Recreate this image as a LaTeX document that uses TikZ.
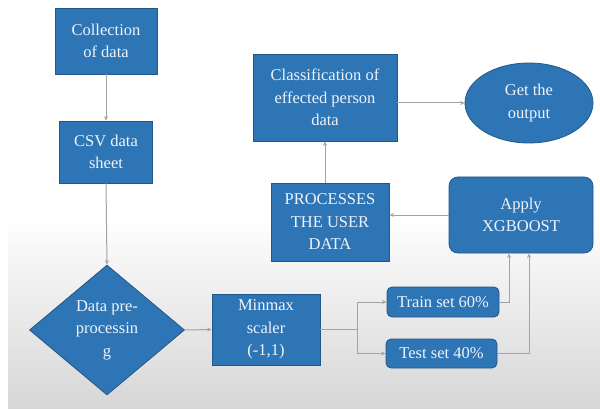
\documentclass[tikz,border=0pt]{standalone}
\usepackage{fontspec}
\setmainfont{Liberation Serif}
\usetikzlibrary{shapes.geometric,arrows.meta,calc}
\definecolor{boxblue}{HTML}{2E75B6}
\definecolor{boxedge}{HTML}{22578A}
\definecolor{txtc}{HTML}{EEF3FA}
\definecolor{linec}{HTML}{A3A3A3}
\definecolor{bgbot}{HTML}{D6D6D6}
\tikzset{
  blk/.style={draw=boxedge, line width=0.8pt, fill=boxblue, text=txtc, align=center,
    font=\fontsize{16.5}{22.5}\selectfont, inner sep=0pt},
  conn/.style={draw=linec, line width=1pt, -{Stealth[length=4.5pt,width=4pt]}},
  plain/.style={draw=linec, line width=1pt}
}
\begin{document}
\begin{tikzpicture}[x=1pt,y=-1pt]
\useasboundingbox (0,0) rectangle (600,409);
\fill[white] (0,0) rectangle (600,409);
\shade[top color=white, bottom color=bgbot] (8,215) rectangle (600,409);

\node[blk, minimum width=102pt, minimum height=66pt] (coll) at (106,41) {Collection\\of data};
\node[blk, minimum width=93pt, minimum height=62pt] (csv) at (106,152) {CSV data\\sheet};
\node[blk, diamond, aspect=1.19, minimum width=155pt, minimum height=130pt] (dp) at (107,330) {Data pre-\\processin\\g};
\node[blk, minimum width=108pt, minimum height=71pt] (mm) at (266,329.5) {Minmax\\scaler\\(-1,1)};
\node[blk, rounded corners=5pt, minimum width=112pt, minimum height=30pt] (train) at (443,302) {Train set 60\%};
\node[blk, rounded corners=5pt, minimum width=111pt, minimum height=29pt] (test) at (441.5,353.5) {Test set 40\%};
\node[blk, rounded corners=9pt, minimum width=144pt, minimum height=76pt] (xgb) at (521,215) {Apply\\XGBOOST};
\node[blk, minimum width=118pt, minimum height=78pt] (proc) at (330,222) {PROCESSES\\THE USER\\DATA};
\node[blk, minimum width=144pt, minimum height=87pt] (cls) at (325,97.5) {Classification of\\effected person\\data};
\node[blk, ellipse, minimum width=128pt, minimum height=80pt] (get) at (529,103) {Get the\\output};

\coordinate (jn) at (357,329.5);

\draw[conn] (coll.south) -- (csv.north);
\draw[conn] (csv.south) -- (dp.north);
\draw[conn] (dp.east) -- (mm.west);
\draw[plain] (mm.east) -- (jn);
\draw[conn] (jn) |- (train.west);
\draw[conn] (jn) |- (test.west);
\draw[conn] (train.east) -| ([xshift=-12pt]xgb.south);
\draw[conn] (test.east) -| ([xshift=8pt]xgb.south);
\draw[conn] (xgb.west) -- (xgb.west -| proc.east);
\draw[conn] (proc.north -| cls.south) -- (cls.south);
\draw[conn] (cls.east |- get.west) -- (get.west);
\end{tikzpicture}
\end{document}
